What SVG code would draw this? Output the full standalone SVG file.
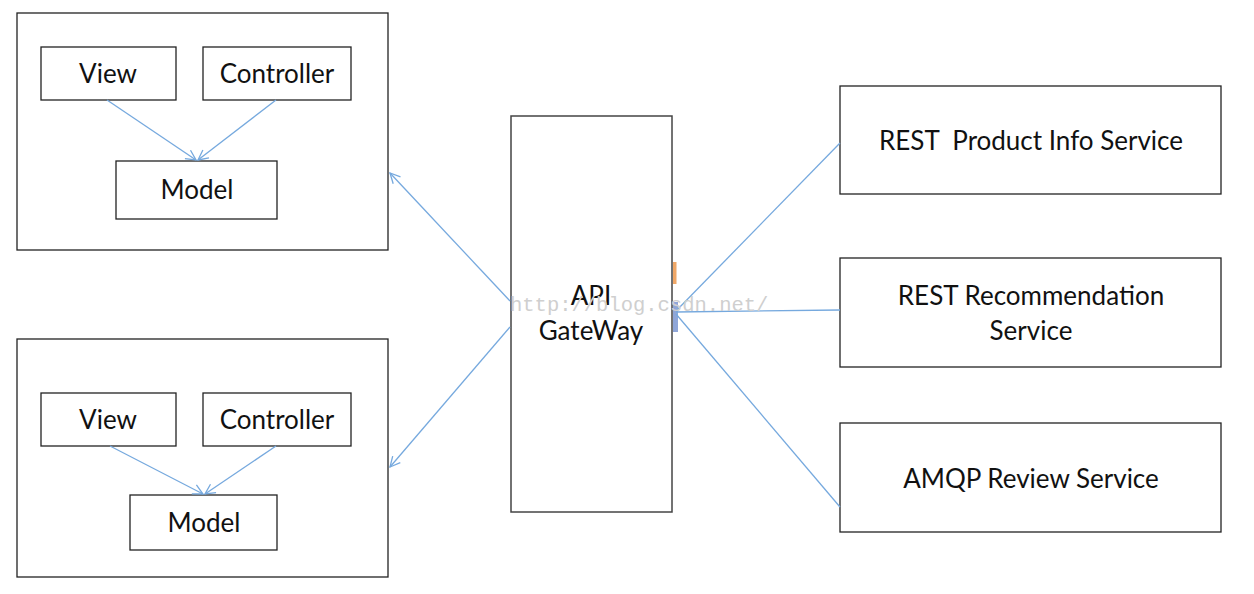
<svg xmlns="http://www.w3.org/2000/svg" width="1254" height="594" viewBox="0 0 1254 594">
<style>
.box{fill:#fff;stroke:#222;stroke-width:1.3}
.gw{fill:#fff;stroke:#444;stroke-width:1.5}
.lbl{font-family:Lato,"Open Sans",sans-serif;font-size:26px;fill:#111;text-anchor:middle}
.con{fill:none;stroke:#76a9de;stroke-width:1.3}
.arr{marker-end:url(#open)}
.wm{font-family:"Liberation Mono",monospace;font-size:20.5px;fill:#cfcfcf}
</style>
<defs>
<marker id="open" viewBox="0 0 12 12" refX="11" refY="6" markerWidth="12" markerHeight="12" markerUnits="userSpaceOnUse" orient="auto">
<path d="M1,1 L11,6 L1,11" fill="none" stroke="#76a9de" stroke-width="1.3"/>
</marker>
</defs>
<rect width="1254" height="594" fill="#fff"/>
<g id="client1">
<rect class="box" x="17" y="13" width="371" height="237"/>
</g>
<g id="view1"><rect class="box" x="41" y="47" width="135" height="53"/><text class="lbl" x="108" y="83">View</text></g>
<g id="controller1"><rect class="box" x="203" y="47" width="148" height="53"/><text class="lbl" x="277" y="83">Controller</text></g>
<g id="model1"><rect class="box" x="116" y="161" width="161" height="58"/><text class="lbl" x="197" y="199">Model</text></g>
<g id="client2">
<rect class="box" x="17" y="339" width="371" height="238"/>
</g>
<g id="view2"><rect class="box" x="41" y="393" width="135" height="53"/><text class="lbl" x="108" y="429">View</text></g>
<g id="controller2"><rect class="box" x="203" y="393" width="148" height="53"/><text class="lbl" x="277" y="429">Controller</text></g>
<g id="model2"><rect class="box" x="130" y="495" width="147" height="55"/><text class="lbl" x="204" y="532">Model</text></g>
<g id="gateway">
<rect class="gw" x="511" y="116" width="161" height="396"/>
<text class="lbl" x="591" y="305">API</text>
<text class="lbl" x="591" y="340">GateWay</text>
<rect x="673" y="262" width="3.5" height="22" fill="#f0a868"/>
<rect x="673" y="302" width="5" height="30" fill="#8fa6d8"/>
</g>
<g id="product"><rect class="box" x="840" y="86" width="381" height="108"/><text class="lbl" x="1031" y="150" xml:space="preserve">REST  Product Info Service</text></g>
<g id="recommendation"><rect class="box" x="840" y="258" width="381" height="109"/><text class="lbl" x="1031" y="305">REST Recommendation</text><text class="lbl" x="1031" y="340">Service</text></g>
<g id="review"><rect class="box" x="840" y="423" width="381" height="109"/><text class="lbl" x="1031" y="488">AMQP Review Service</text></g>
<g id="connectors">
<line class="con arr" x1="107" y1="100" x2="196" y2="160"/>
<line class="con arr" x1="276" y1="100" x2="198" y2="160"/>
<line class="con arr" x1="110" y1="446" x2="203" y2="494"/>
<line class="con arr" x1="276" y1="446" x2="205" y2="494"/>
<line class="con arr" x1="510" y1="301" x2="390" y2="173"/>
<line class="con arr" x1="510" y1="327" x2="390" y2="467"/>
<line class="con" x1="676" y1="311" x2="840" y2="143"/>
<line class="con" x1="676" y1="312" x2="840" y2="310"/>
<line class="con" x1="676" y1="314" x2="840" y2="507"/>
</g>
<text class="wm" x="510" y="311">http://blog.csdn.net/</text>
</svg>
